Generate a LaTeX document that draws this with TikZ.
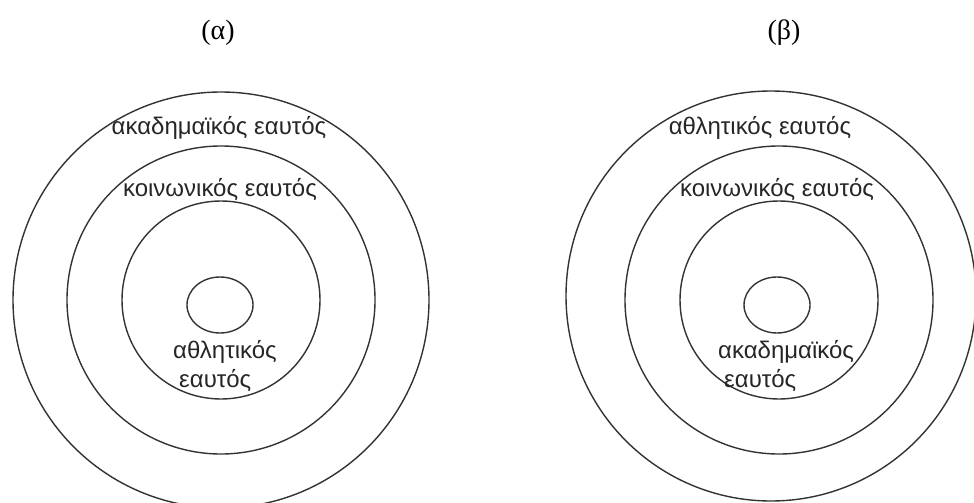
\documentclass[tikz,border=0pt]{standalone}
\usepackage{fontspec}
\setmainfont{Liberation Serif}
\newfontfamily\labelfont{Liberation Sans}
\usetikzlibrary{positioning}

\tikzset{
  ring/.style={draw=black!80, line width=1.4pt},
  selftext/.style={font=\labelfont\fontsize{24}{29}\selectfont, text=black!85, inner sep=0pt},
  paneltitle/.style={font=\fontsize{28}{33}\selectfont, inner sep=0pt},
}

\begin{document}
\begin{tikzpicture}[x=1pt, y=-1pt]
        \useasboundingbox (0,0) rectangle (974,503);
        \clip (0,0) rectangle (974,503);

        % panel (a)
        \foreach \r in {99,154,208} \draw[ring] (221,300) circle (\r);
        \draw[ring] (220,305) ellipse (33 and 28);
        \node[paneltitle] (ta) at (218,33) {(α)};
        \node[selftext] (acadA) at (219,128) {ακαδημαϊκός εαυτός};
        \node[selftext] (socA) at (220,190) {κοινωνικός εαυτός};
        \node[selftext, align=left, anchor=north west] (athA) at (173,340) {αθλητικός\\\hspace*{6pt}εαυτός};

        % panel (b)
        \foreach \r in {99,154} \draw[ring] (779,300) circle (\r);
        \draw[ring] (771,296) circle (205);
        \draw[ring] (777,305) ellipse (33 and 28);
        \node[paneltitle] (tb) at (784,33) {(β)};
        \node[selftext] (athB) at (760,128) {αθλητικός εαυτός};
        \node[selftext] (socB) at (777,190) {κοινωνικός εαυτός};
        \node[selftext, align=left, anchor=north west] (acadB) at (718,340) {ακαδημαϊκός\\\hspace*{6pt}εαυτός};
\end{tikzpicture}
\end{document}
